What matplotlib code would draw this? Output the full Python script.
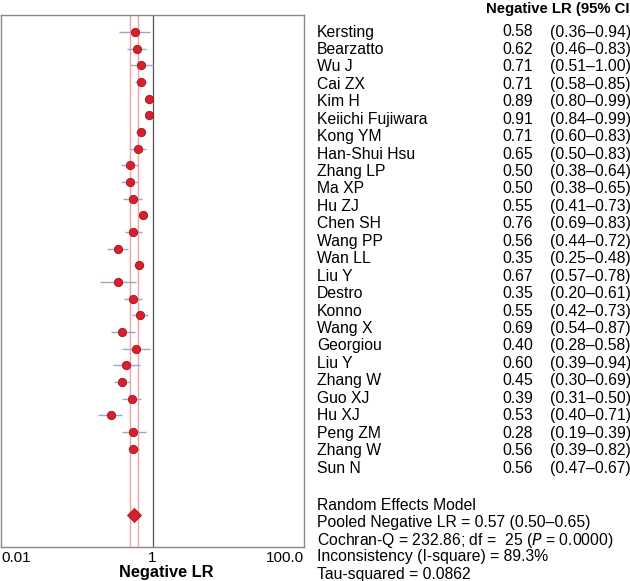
import matplotlib.pyplot as plt
import numpy as np

plt.rcParams['font.family'] = ['Liberation Sans', 'DejaVu Sans']

studies = ['Kersting', 'Bearzatto', 'Wu J', 'Cai ZX', 'Kim H', 'Keiichi Fujiwara',
           'Kong YM', 'Han-Shui Hsu', 'Zhang LP', 'Ma XP', 'Hu ZJ', 'Chen SH',
           'Wang PP', 'Wan LL', 'Liu Y', 'Destro', 'Konno', 'Wang X', 'Georgiou',
           'Liu Y', 'Zhang W', 'Guo XJ', 'Hu XJ', 'Peng ZM', 'Zhang W', 'Sun N']
lr = [0.58, 0.62, 0.71, 0.71, 0.89, 0.91, 0.71, 0.65, 0.50, 0.50, 0.55, 0.76, 0.56,
      0.35, 0.67, 0.35, 0.55, 0.69, 0.40, 0.60, 0.45, 0.39, 0.53, 0.28, 0.56, 0.56]
lo = [0.36, 0.46, 0.51, 0.58, 0.80, 0.84, 0.60, 0.50, 0.38, 0.38, 0.41, 0.69, 0.44,
      0.25, 0.57, 0.20, 0.42, 0.54, 0.28, 0.39, 0.30, 0.31, 0.40, 0.19, 0.39, 0.47]
hi = [0.94, 0.83, 1.00, 0.85, 0.99, 0.99, 0.83, 0.83, 0.64, 0.65, 0.73, 0.83, 0.72,
      0.48, 0.78, 0.61, 0.73, 0.87, 0.58, 0.94, 0.69, 0.50, 0.71, 0.39, 0.82, 0.67]
pooled, pooled_lo, pooled_hi = 0.57, 0.50, 0.65

stats_lines = ['Random Effects Model',
               'Pooled Negative LR = 0.57 (0.50\u20130.65)',
               'Cochran-Q = 232.86; df =  25 ($\\it{P}$ = 0.0000)',
               'Inconsistency (I-square) = 89.3%',
               'Tau-squared = 0.0862']

W, H = 630, 581
FS = 11.3
fig = plt.figure(figsize=(W / 100, H / 100), dpi=100)
ax = fig.add_axes([1 / W, 34 / H, 303 / W, 532 / H])

n = len(studies)
ypos = np.arange(n)
red = '#d7202c'

ax.axvline(1, color='#555555', lw=0.9, zorder=1)
ax.axvline(pooled_lo, color='#f4a3a3', lw=1.0, zorder=1)
ax.axvline(pooled_hi, color='#f4a3a3', lw=1.0, zorder=1)
ax.hlines(ypos, lo, hi, color='#9aa6cf', lw=1.0, zorder=2)
ax.plot(lr, ypos, 'o', ms=6, color=red, mec='#9e1520', mew=0.6, zorder=3)
ax.plot([pooled], [n + 3], 'D', ms=7.5, color=red, mec='#9e1520', mew=0.6, zorder=3)

ax.set_xscale('log')
ax.set_xlim(0.01, 100)
ax.set_ylim(30.9, -1.02)
ax.set_yticks([])
ax.set_xticks([0.01, 1, 100])
ax.set_xticklabels(['0.01', '1', '100.0'], fontsize=11)
ax.minorticks_off()
ax.tick_params(axis='x', length=0, pad=3)
labs = ax.get_xticklabels()
labs[0].set_ha('left')
labs[2].set_ha('right')
for s in ax.spines.values():
    s.set_color('#888888')
    s.set_linewidth(1.0)
fig.text(166 / W, 1 - 573 / H, 'Negative LR', fontsize=11.8, fontweight='bold',
         ha='center', va='center')

# right-hand text columns
fig.text(629 / W, 1 - 9 / H, 'Negative LR (95% CI', fontsize=10.7, fontweight='bold',
         ha='right', va='center')
for i in range(n):
    y = 1 - (32 + i * 17.44) / H
    fig.text(317 / W, y, studies[i], fontsize=FS, va='center')
    fig.text(533 / W, y, f'{lr[i]:.2f}', fontsize=FS, va='center', ha='right')
    fig.text(550 / W, y, f'({lo[i]:.2f}\u2013{hi[i]:.2f})', fontsize=FS, va='center')

for k, line in enumerate(stats_lines):
    fig.text(317 / W, 1 - (506 + k * 17) / H, line, fontsize=FS, va='center')

fig.savefig('out.png', dpi=100)
